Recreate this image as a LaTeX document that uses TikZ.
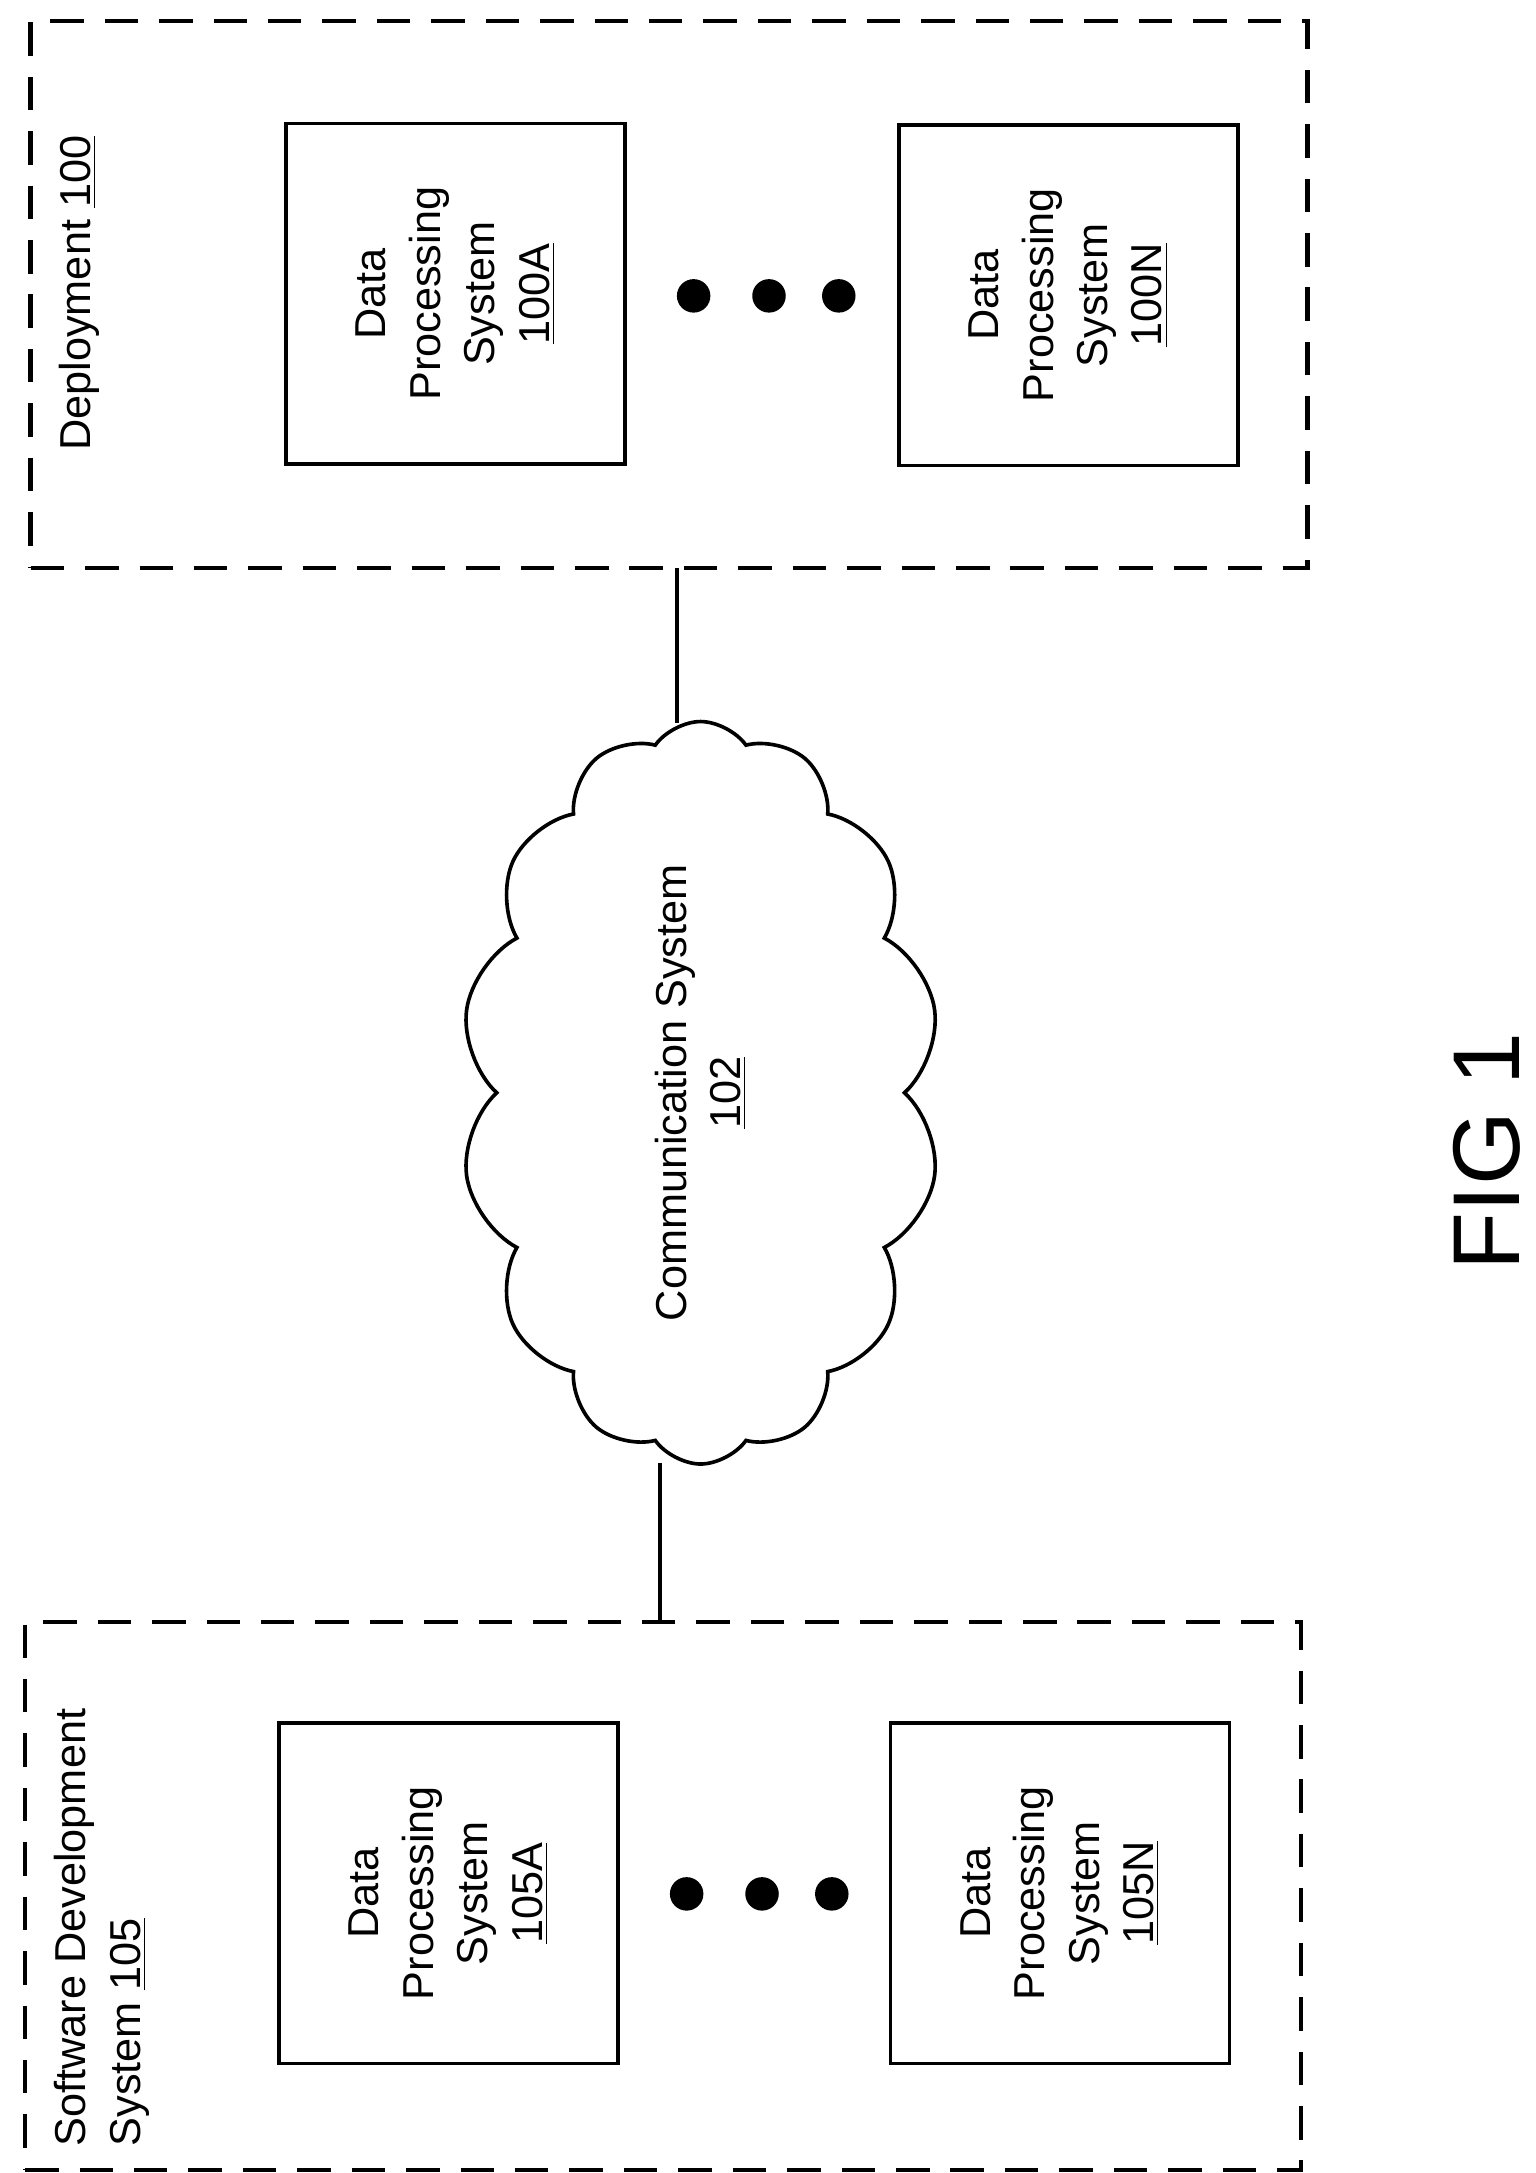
\documentclass[tikz,border=0pt]{standalone}
\usepackage{fontspec}
\setmainfont{Liberation Sans}
\usetikzlibrary{shapes.symbols}
\begin{document}
\begin{tikzpicture}[x=0.5pt,y=-0.5pt,
  dbox/.style={draw,line width=1.6pt,dash pattern=on 12pt off 7.5pt},
  dps/.style={draw,line width=1.3pt,minimum width=121.5pt,minimum height=122pt,align=center,
     font=\fontsize{15.5}{19.5}\selectfont},
  lbl/.style={rotate=90,font=\fontsize{15.5}{19.5}\selectfont,align=left},
  dot/.style={circle,fill,inner sep=0pt,minimum size=12pt},
  ln/.style={line width=1.3pt}]
\useasboundingbox (0,0) rectangle (1100,1557);
\node[dbox,minimum width=457.5pt,minimum height=196pt] (dep) at (479.5,211) {};
\node[dbox,minimum width=457pt,minimum height=196.5pt] (sds) at (475,1358.5) {};
\node[lbl,anchor=north west] (deplbl) at (35,330) {Deployment \underline{100}};
\node[lbl,anchor=north west] (sdslbl) at (32,1545) {Software Development\\System \underline{105}};
\node[dps] (a) at (326.5,210.5) {}; \node[rotate=90,align=center,font=\fontsize{15.5}{19.5}\selectfont] at (a) {Data\\Processing\\System\\\underline{100A}};
\node[dps] (n) at (765.5,211.5) {}; \node[rotate=90,align=center,font=\fontsize{15.5}{19.5}\selectfont] at (n) {Data\\Processing\\System\\\underline{100N}};
\node[dps] (b) at (321.5,1356.5) {}; \node[rotate=90,align=center,font=\fontsize{15.5}{19.5}\selectfont] at (b) {Data\\Processing\\System\\\underline{105A}};
\node[dps] (m) at (759.5,1356.5) {}; \node[rotate=90,align=center,font=\fontsize{15.5}{19.5}\selectfont] at (m) {Data\\Processing\\System\\\underline{105N}};
\node[dot] (d1) at (497,212) {}; \node[dot] (d2) at (551,212) {}; \node[dot] (d3) at (601,212) {};
\node[dot] (e1) at (492,1357) {}; \node[dot] (e2) at (546,1357) {}; \node[dot] (e3) at (596,1357) {};
\node[cloud,draw,line width=1.3pt,cloud puffs=14,cloud puff arc=110,aspect=0.62,
  minimum width=172pt,minimum height=266pt,inner sep=0pt] (cl) at (502,783) {};
\node[rotate=90,align=center,font=\fontsize{15.5}{19.5}\selectfont] (cltxt) at (502,783) {Communication System\\\underline{102}};
\coordinate (ct) at (485,518); \coordinate (cb) at (473,1048);
\draw[ln] (485,407) -- (ct);
\draw[ln] (cb) -- (473,1162);
\node[rotate=90,font=\fontsize{34}{40}\selectfont] (fig) at (1065,825) {FIG 1};
\end{tikzpicture}
\end{document}
